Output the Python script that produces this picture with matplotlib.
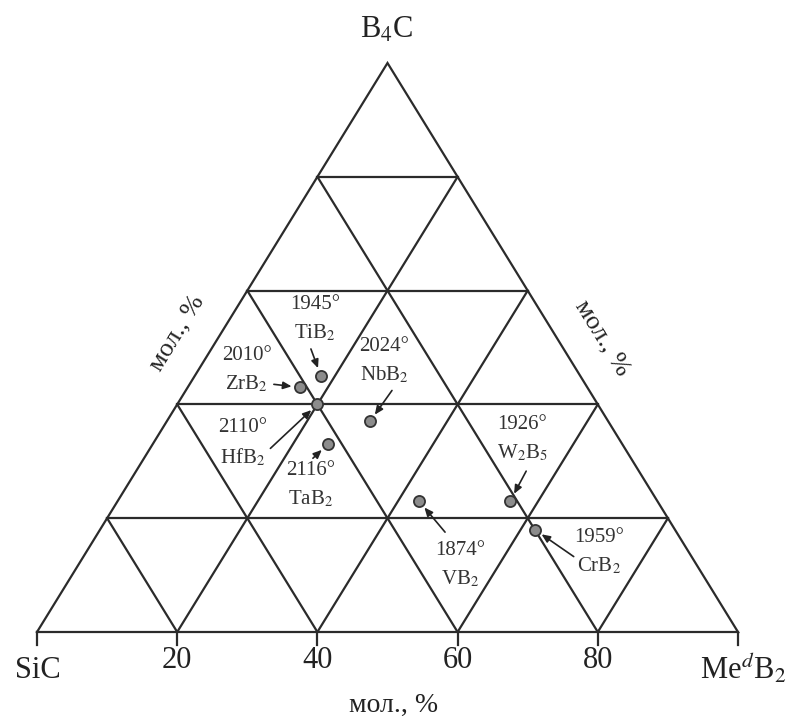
import numpy as np
import matplotlib
matplotlib.use("Agg")
import matplotlib.pyplot as plt

plt.rcParams['font.family'] = ['Liberation Serif', 'DejaVu Serif']
plt.rcParams['mathtext.fontset'] = 'stix'

# compounds: melting point of the eutectic and composition (mol. fractions)
names = ["TiB$_2$", "ZrB$_2$", "HfB$_2$", "NbB$_2$", "TaB$_2$", "VB$_2$", "W$_2$B$_5$", "CrB$_2$"]
temps = ["1945°", "2010°", "2110°", "2024°", "2116°", "1874°", "1926°", "1959°"]
meb2 = [0.18, 0.16, 0.20, 0.29, 0.25, 0.43, 0.56, 0.62]
b4c = [0.45, 0.43, 0.40, 0.37, 0.33, 0.23, 0.23, 0.18]

bottom_ticks = [0, 20, 40, 60, 80, 100]
tick_labels = ["", "20", "40", "60", "80", ""]

# label / arrow placement, pixels relative to the point
label_off = [(-6, 57), (-53, 17), (-75, -39), (14, 60), (-17, -41), (41, -64), (12, 62), (64, -23)]
arrow_off = [(-10, 27), (-26, 3), (-47, -44), (22, 31), (-15, -14), (26, -31), (16, 30), (39, -27)]

W, H = 788, 723
fig = plt.figure(figsize=(W / 100, H / 100), dpi=100)
ax = fig.add_axes([0, 0, 1, 1])
ax.set_xlim(-37 / 701, (W - 37) / 701)
ax.set_ylim(-(H - 632) / 569, 632 / 569)
ax.axis("off")


def tern(b, t):
    b = np.asarray(b, dtype=float)
    t = np.asarray(t, dtype=float)
    return b + t / 2, t


lc = "#2b2b2b"
tc = "#222222"
lw = 1.6

# outline
ox, oy = tern([0, 1, 0, 0], [0, 0, 1, 0])
ax.plot(ox, oy, color=lc, lw=lw, solid_joinstyle="miter")

# grid every 20 %
for v in [0.2, 0.4, 0.6, 0.8]:
    # constant B4C
    gx, gy = tern([0, 1 - v], [v, v])
    ax.plot(gx, gy, color=lc, lw=lw)
    # constant MedB2
    gx, gy = tern([v, v], [0, 1 - v])
    ax.plot(gx, gy, color=lc, lw=lw)
    # constant SiC
    gx, gy = tern([1 - v, 0], [0, 1 - v])
    ax.plot(gx, gy, color=lc, lw=lw)

# ticks under the base
tick_len = 13 / 569
for v, lab in zip(bottom_ticks, tick_labels):
    ax.plot([v / 100, v / 100], [0, -tick_len], color=lc, lw=lw)
    if lab:
        ax.text(v / 100, -29 / 569, lab, ha="center", va="center", fontsize=22, color=tc)

# corner and axis labels
fig.text(38 / W, 1 - 670 / H, "SiC", ha="center", va="center", fontsize=22, color=tc)
fig.text(786 / W, 1 - 668 / H, "Me$^{d}$B$_2$", ha="right", va="center", fontsize=22, color=tc)
fig.text(387 / W, 1 - 30 / H, "B$_4$C", ha="center", va="center", fontsize=22, color=tc)
fig.text(394 / W, 1 - 705 / H, "мол., %", ha="center", va="center", fontsize=20, color=tc)
fig.text(177 / W, 1 - 333 / H, "мол., %", ha="center", va="center", fontsize=19,
         rotation=58.4, rotation_mode="anchor", color=tc)
fig.text(602 / W, 1 - 338 / H, "мол., %", ha="center", va="center", fontsize=19,
         rotation=-58.4, rotation_mode="anchor", color=tc)

# compositions
px, py = tern(meb2, b4c)
ax.plot(px, py, "o", ms=8, mfc="#8c8c8c", mec="#333333", mew=1.3, ls="none", zorder=5)

for i in range(len(names)):
    ax.annotate(temps[i] + "\n" + names[i], xy=(px[i], py[i]), xytext=label_off[i],
                textcoords="offset pixels", ha="center", va="center", fontsize=15,
                linespacing=1.55, color="#333333")
    ax.annotate("", xy=(px[i], py[i]), xytext=arrow_off[i], textcoords="offset pixels",
                arrowprops=dict(arrowstyle="-|>,head_length=0.5,head_width=0.22", color=tc,
                                lw=1.2, shrinkA=0, shrinkB=6))

fig.savefig("out.png", dpi=100)
